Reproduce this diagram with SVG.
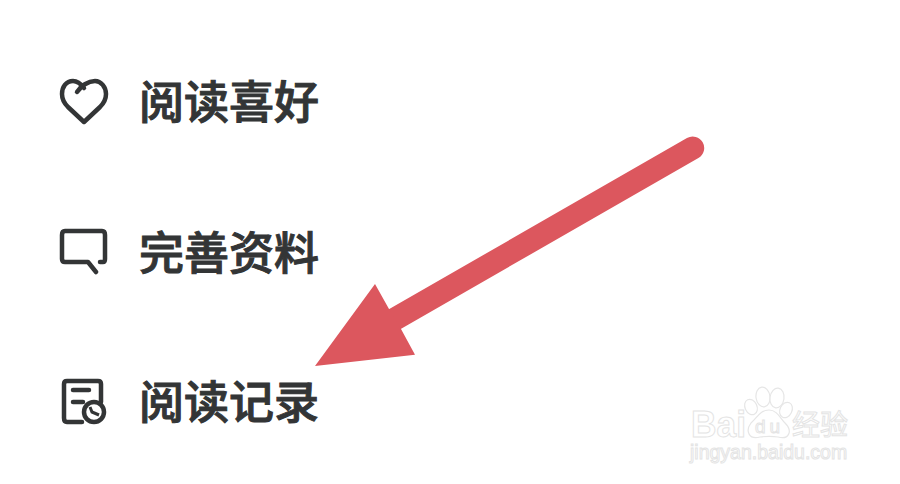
<svg xmlns="http://www.w3.org/2000/svg" width="900" height="484" viewBox="0 0 900 484">
<style>
.t{font-family:"Noto Sans CJK SC","Noto Sans",sans-serif;font-size:45px;font-weight:500;fill:#333536;stroke:#333536;stroke-width:1}
.i{fill:none;stroke:#333536;stroke-width:4.5;stroke-linecap:round;stroke-linejoin:round}
.w{fill:#fff;stroke:#e6e6e6;stroke-width:1.2}
.wt{font-family:"Liberation Sans",sans-serif;fill:#fff;stroke:#e4e4e4;stroke-width:1}
</style>
<rect width="900" height="484" fill="#fff"/>
<g id="item-like">
<path class="i" d="M84 88C81 84 77 81 73 81C66 81 62 87 62 94C62 99 64 103 68 107L84 122L100 107C104 103 106 99 106 94C106 87 101 81 95 81C88 81 81 86 77 92"/>
<text class="t" x="139" y="119">阅读喜好</text>
</g>
<g id="item-profile">
<path class="i" d="M100 262H103Q105 262 105 259V235Q105 231 102 231H65Q62 231 62 235V259Q62 262 65 262H88L96 272"/>
<text class="t" x="139" y="270">完善资料</text>
</g>
<g id="item-history">
<path class="i" d="M82 422H67Q64 422 64 418V384Q64 381 67 381H98Q101 381 101 384V402"/>
<path class="i" d="M73 390H89M73 402H83"/>
<circle cx="94" cy="412" r="10" fill="none" stroke="#333536" stroke-width="4.500"/>
<path d="M90 407L92 412L99 415" fill="none" stroke="#333536" stroke-width="3"/>
<text class="t" x="139" y="419">阅读记录</text>
</g>
<g id="watermark">
<ellipse class="w" cx="763" cy="397" rx="7" ry="10" transform="rotate(-8 763 397)"/>
<ellipse class="w" cx="777" cy="398" rx="7" ry="10" transform="rotate(8 777 398)"/>
<ellipse class="w" cx="786" cy="410" rx="6" ry="8" transform="rotate(25 786 410)"/>
<ellipse class="w" cx="751" cy="407" rx="6" ry="8" transform="rotate(-25 751 407)"/>
<path class="w" d="M769 410C777 410 780 418 785 423C793 431 789 440 778 437C772 436 767 436 760 437C749 440 745 431 751 423C757 418 760 410 769 410Z"/>
<text class="wt" x="691" y="437" font-size="36" font-weight="700" textLength="55" lengthAdjust="spacingAndGlyphs">Bai</text>
<text class="wt" x="755" y="433" font-size="19" textLength="25">du</text>
<text class="wt" x="792" y="435" font-size="28" style="font-family:'Noto Sans CJK SC',sans-serif">经验</text>
<text class="wt" x="690" y="459" font-size="19.500">jingyan.baidu.com</text>
</g>
<g id="connectors">
<path d="M692.700 148L395 319" fill="none" stroke="#dc575e" stroke-width="23" stroke-linecap="round"/>
<path d="M315 366L375 284L389 309L401 329L415 354.700Z" fill="#dc575e"/>
</g>
</svg>
